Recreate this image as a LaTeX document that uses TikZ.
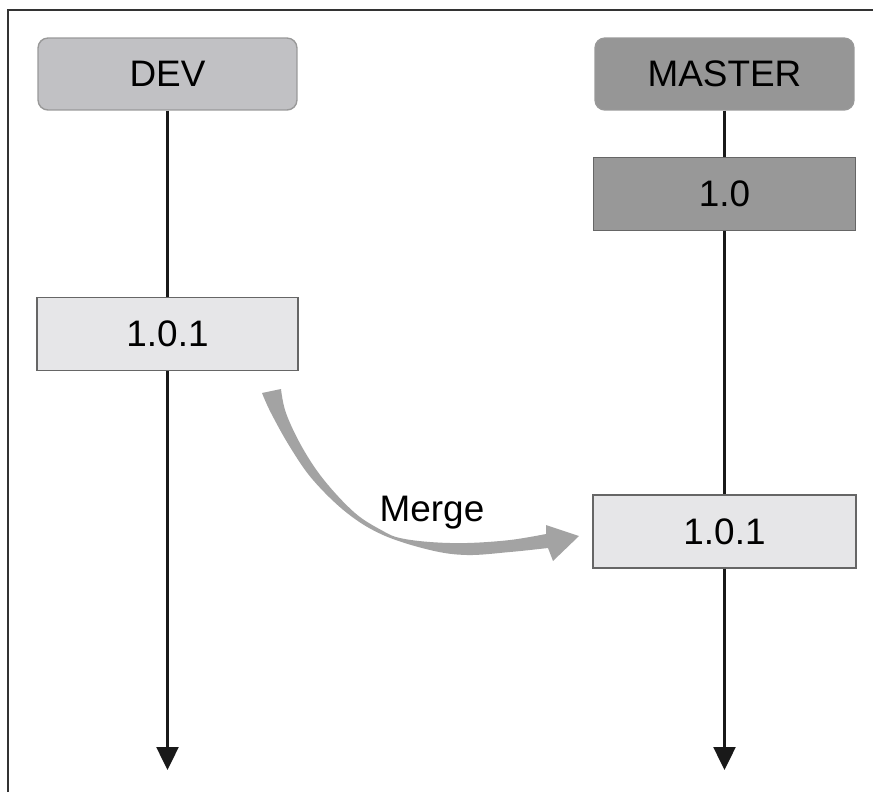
\documentclass[tikz,border=0pt]{standalone}
\usepackage{fontspec}
\setmainfont{Liberation Sans}
\usepackage{tikz}
\usetikzlibrary{arrows.meta}
\definecolor{devgrey}{HTML}{C1C1C4}
\definecolor{mastergrey}{HTML}{969696}
\definecolor{relgrey}{HTML}{989898}
\definecolor{fixgrey}{HTML}{E6E6E8}
\definecolor{mergegrey}{HTML}{A3A3A3}
\tikzset{
  headbox/.style={draw=black!40, line width=0.8pt, rounded corners=0.2cm,
    minimum width=5.18cm, minimum height=1.44cm, inner sep=0pt,
    font=\fontsize{21}{25}\selectfont},
  verbox/.style={draw=black!60, line width=0.8pt,
    minimum width=5.22cm, minimum height=1.46cm, inner sep=0pt,
    font=\fontsize{21}{25}\selectfont},
  flowline/.style={line width=1.4pt, black!90},
  flowarrow/.style={flowline, -{Triangle[length=0.46cm,width=0.44cm]}}
}

\begin{document}
\begin{tikzpicture}[line cap=butt,line join=miter,x=0.02cm,y=-0.02cm]
\useasboundingbox (0,0) rectangle (873,792);
%frame, only top and left edges show
\draw [line width=1.2pt,black!80] (8,792)-- (8,10)-- (873,10);
%branches
\node[headbox,fill=devgrey] (dev) at (167.5,74) {DEV};
\node[headbox,fill=mastergrey] (master) at (724.5,74) {MASTER};
\node[verbox,fill=relgrey,minimum width=5.24cm] (rel) at (724.5,194) {1.0};
\node[verbox,fill=fixgrey] (devfix) at (167.5,334) {1.0.1};
\node[verbox,fill=fixgrey,minimum width=5.26cm] (masterfix) at (724.5,531.5) {1.0.1};
\coordinate (devend) at (167.5,770);
\coordinate (masterend) at (724.5,770);
\draw [flowline] (dev) -- (devfix);
\draw [flowarrow] (devfix) -- (devend);
\draw [flowline] (master) -- (rel);
\draw [flowline] (rel) -- (masterfix);
\draw [flowarrow] (masterfix) -- (masterend);
%merge stroke
\fill [mergegrey] plot[smooth,tension=0.6] coordinates {(262,393) (271,413) (290,447) (313,480) (347,513) (383,535) (430,550) (467,555) (510,552) (548,548)}
  -- (553,561) -- (579,536) -- (546,525)
  -- plot[smooth,tension=0.6] coordinates {(546,534) (510,540) (467,543) (430,542) (400,538) (383,531) (355,513) (324,480) (302,447) (286,413) (281,389)}
  -- cycle;
\node[anchor=base,font=\fontsize{21}{25}\selectfont,inner sep=0pt] (mergelabel) at (432,521) {Merge};
\end{tikzpicture}
\end{document}
